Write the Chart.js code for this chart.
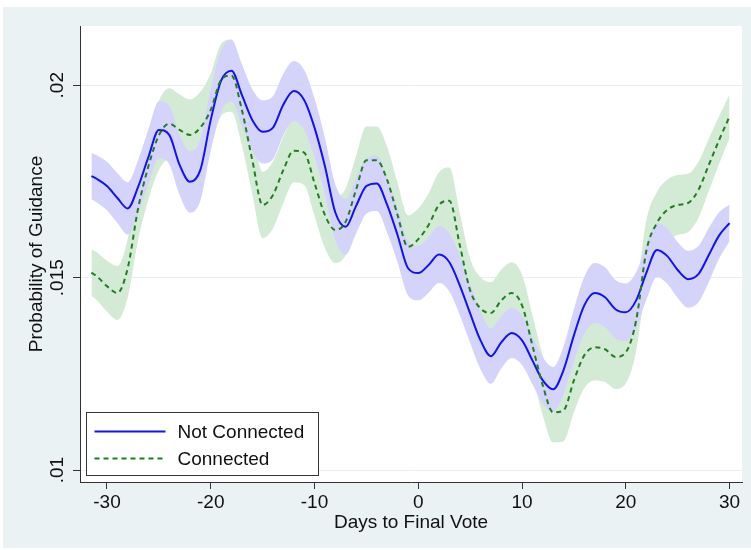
<!DOCTYPE html>
<html lang="en">
<head>
<meta charset="UTF-8">
<title>Probability of Guidance</title>
<script src="https://cdn.jsdelivr.net/npm/chart.js"></script>
<style>
  html, body { margin: 0; padding: 0; background: #fff; }
</style>
</head>
<body>
<canvas id="chart" width="751" height="550"></canvas>
<script>
// days relative to the final vote
const days = [-31.5, -31, -30, -29, -28, -27, -26, -25, -24, -23, -22, -21, -20, -19, -18, -17, -16, -15, -14, -13, -12,
  -11, -10, -9, -8, -7, -6, -5, -4, -3, -2, -1, 0, 1, 2, 3, 4, 5, 6, 7, 8, 9,
  10, 11, 12, 13, 14, 15, 16, 17, 18, 19, 20, 21, 22, 23, 24, 25, 26, 27, 28, 29, 30];

const notConnected = [.01764, .01757, .01738, .01707, .01680, .01736, .01814, .01884, .01871, .01793, .01749, .01780, .01910, .02012, .02038, .01975, .01910, .01879, .01890, .01950, .01985,
  .01962, .01890, .01790, .01670, .01632, .01686, .01738, .01745, .01689, .01611, .01525, .01512, .01533, .01560, .01540, .01480, .01407, .01337, .01296, .01332, .01356,
  .01337, .01285, .01233, .01210, .01260, .01350, .01428, .01460, .01449, .01418, .01410, .01441, .01514, .01572, .01556, .01520, .01496, .01509, .01559, .01610, .01642];

// half width of the confidence band
const notConnectedCI = [.00060, .00061, .00063, .00065, .00068, .00070, .00072, .00074, .00076, .00078, .00080, .00080, .00080, .00080, .00080, .00080, .00080, .00082, .00082, .00080, .00078,
  .00078, .00076, .00074, .00073, .00073, .00072, .00072, .00072, .00072, .00071, .00071, .00071, .00072, .00074, .00076, .00077, .00077, .00075, .00072, .00068, .00065,
  .00064, .00062, .00060, .00058, .00062, .00068, .00074, .00078, .00078, .00076, .00075, .00073, .00071, .00070, .00072, .00073, .00074, .00073, .00070, .00060, .00048];

const connected = [.01513, .01504, .01478, .01460, .01525, .01680, .01790, .01870, .01900, .01884, .01871, .01890, .01936, .02014, .02025, .01936, .01806, .01689, .01715, .01780, .01830,
  .01825, .01746, .01663, .01624, .01645, .01728, .01805, .01805, .01754, .01663, .01580, .01600, .01637, .01689, .01700, .01585, .01467, .01420, .01408, .01441, .01460,
  .01428, .01324, .01220, .01150, .01155, .01233, .01298, .01319, .01314, .01294, .01306, .01389, .01572, .01642, .01676, .01689, .01694, .01728, .01793, .01858, .01919];

const connectedCI = [.00060, .00062, .00066, .00070, .00076, .00082, .00086, .00090, .00092, .00092, .00092, .00093, .00094, .00094, .00094, .00092, .00088, .00086, .00087, .00086, .00083,
  .00084, .00085, .00086, .00086, .00087, .00088, .00088, .00088, .00086, .00084, .00082, .00080, .00082, .00085, .00086, .00084, .00082, .00081, .00080, .00080, .00080,
  .00080, .00079, .00078, .00078, .00080, .00083, .00085, .00086, .00085, .00083, .00081, .00080, .00080, .00080, .00079, .00078, .00076, .00073, .00068, .00062, .00057];

const xTicks = [-30, -20, -10, 0, 10, 20, 30];
const yTicks = [0.01, 0.015, 0.02];
const yTickLabels = ['.01', '.015', '.02'];
const seriesNames = ['Not Connected', 'Connected'];

const FONT = "'Liberation Sans', Arial, Helvetica, sans-serif";
const BLUE = '#1212f5';
const GREEN = '#1f7f1f';

function pts(values, offset, sign) {
  return days.map((d, i) => ({ x: d, y: values[i] + (offset ? sign * offset[i] : 0) }));
}

// Stata style backgrounds
const backdrop = {
  id: 'backdrop',
  beforeDraw(chart) {
    const { ctx, chartArea: a } = chart;
    ctx.save();
    ctx.fillStyle = '#ffffff';
    ctx.fillRect(0, 0, chart.width, chart.height);
    ctx.fillStyle = '#eaf2f3';
    ctx.fillRect(3, 7, chart.width - 3, chart.height - 9);
    ctx.fillStyle = '#ffffff';
    ctx.fillRect(a.left, a.top, a.right - a.left, a.bottom - a.top);
    ctx.restore();
  }
};

// rotated y tick labels and the legend box
const extras = {
  id: 'extras',
  afterDraw(chart) {
    const { ctx, chartArea: a } = chart;
    const ys = chart.scales.y;
    ctx.save();
    ctx.fillStyle = '#111';
    ctx.font = '19px ' + FONT;
    ctx.textAlign = 'center';
    ctx.textBaseline = 'middle';
    yTicks.forEach((v, i) => {
      ctx.save();
      ctx.translate(58, ys.getPixelForValue(v));
      ctx.rotate(-Math.PI / 2);
      ctx.fillText(yTickLabels[i], 0, 0);
      ctx.restore();
    });

    // legend
    const bx = a.left + 6.5, by = a.bottom - 69.5, bw = 232, bh = 63;
    ctx.fillStyle = '#fff';
    ctx.fillRect(bx, by, bw, bh);
    ctx.strokeStyle = '#333';
    ctx.lineWidth = 1;
    ctx.strokeRect(bx, by, bw, bh);
    const rows = [by + 19, by + 46];
    [BLUE, GREEN].forEach((c, i) => {
      ctx.beginPath();
      ctx.strokeStyle = c;
      ctx.lineWidth = 2;
      ctx.setLineDash(i === 1 ? [5, 4] : []);
      ctx.moveTo(bx + 8, rows[i]);
      ctx.lineTo(bx + 79, rows[i]);
      ctx.stroke();
    });
    ctx.setLineDash([]);
    ctx.fillStyle = '#111';
    ctx.textAlign = 'left';
    seriesNames.forEach((n, i) => ctx.fillText(n, bx + 91, rows[i] + 1));
    ctx.restore();
  }
};

const ctx = document.getElementById('chart').getContext('2d');
new Chart(ctx, {
  type: 'line',
  data: {
    datasets: [
      { label: seriesNames[0], data: pts(notConnected), borderColor: BLUE, borderWidth: 2, fill: false, order: 1 },
      { label: seriesNames[1], data: pts(connected), borderColor: GREEN, borderWidth: 2, borderDash: [5, 4], fill: false, order: 0 },
      { label: 'nc hi', data: pts(notConnected, notConnectedCI, 1), borderWidth: 0, borderColor: 'transparent', fill: false, order: 2 },
      { label: 'nc lo', data: pts(notConnected, notConnectedCI, -1), borderWidth: 0, borderColor: 'transparent', backgroundColor: '#d4d4fb', fill: '-1', order: 2 },
      { label: 'c hi', data: pts(connected, connectedCI, 1), borderWidth: 0, borderColor: 'transparent', fill: false, order: 3 },
      { label: 'c lo', data: pts(connected, connectedCI, -1), borderWidth: 0, borderColor: 'transparent', backgroundColor: '#d3ead5', fill: '-1', order: 3 }
    ]
  },
  options: {
    responsive: false,
    animation: false,
    events: [],
    layout: { padding: { left: 0, top: 26, right: 9, bottom: 0 } },
    elements: {
      point: { radius: 0 },
      line: { cubicInterpolationMode: 'monotone' }
    },
    plugins: {
      legend: { display: false },
      tooltip: { enabled: false }
    },
    scales: {
      x: {
        type: 'linear',
        min: -32.6,
        max: 31.2,
        afterBuildTicks: s => { s.ticks = xTicks.map(v => ({ value: v })); },
        afterFit: s => { s.height = 68; },
        grid: { display: true, drawOnChartArea: false, drawTicks: true, tickLength: 7, tickColor: '#333' },
        border: { color: '#333', width: 1 },
        ticks: { color: '#111', font: { family: FONT, size: 19 }, padding: 2, maxRotation: 0 },
        title: { display: true, text: 'Days to Final Vote', color: '#111', font: { family: FONT, size: 19, lineHeight: 1.2 }, padding: { top: 0, bottom: 16 } }
      },
      y: {
        type: 'linear',
        min: 0.00969,
        max: 0.02154,
        afterBuildTicks: s => { s.ticks = yTicks.map(v => ({ value: v })); },
        afterFit: s => { s.width = 80; },
        grid: { color: '#e6eef0', lineWidth: 1, drawTicks: true, tickLength: 7, tickColor: '#333' },
        border: { color: '#333', width: 1 },
        ticks: { display: false },
        title: { display: true, text: 'Probability of Guidance', color: '#111', font: { family: FONT, size: 19, lineHeight: 1.2 }, padding: { top: 25, bottom: 0 } }
      }
    }
  },
  plugins: [backdrop, extras]
});
</script>
</body>
</html>
